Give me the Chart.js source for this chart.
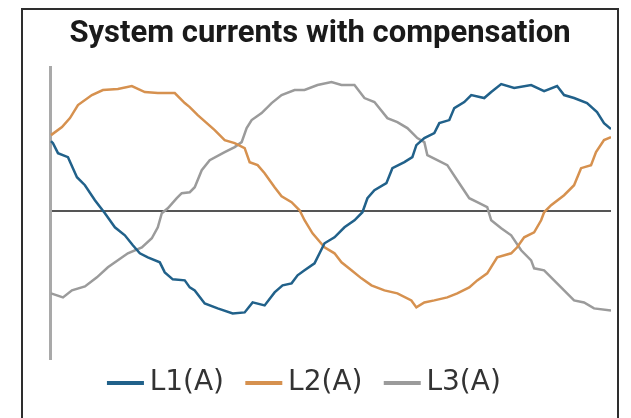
<!DOCTYPE html>
<html>
<head>
<meta charset="utf-8">
<script src="https://cdn.jsdelivr.net/npm/chart.js@4"></script>
<style>
  html, body { margin: 0; padding: 0; background: #fff; }
</style>
</head>
<body>
<canvas id="chart" width="631" height="418"></canvas>
<script>
// samples (x index) and currents (A)
const sampleL1 = [0, 2, 7, 17, 26, 34, 44, 54, 64, 74, 82, 89, 97, 109, 114, 122, 134, 139, 144, 154, 167, 182, 194, 202, 214, 224, 232, 241, 247, 254, 264, 274, 284, 294, 304, 312, 317, 324, 336, 342, 354, 362, 366, 374, 384, 389, 399, 404, 414, 421, 434, 441, 451, 464, 481, 494, 507, 514, 524, 537, 547, 554, 561];
const currentL1 = [7.0, 6.8, 5.8, 5.4, 3.4, 2.6, 1.1, -0.2, -1.6, -2.4, -3.4, -4.2, -4.6, -5.1, -6.1, -6.8, -6.9, -7.6, -7.9, -9.2, -9.7, -10.2, -10.1, -9.1, -9.4, -8.1, -7.4, -7.2, -6.4, -5.9, -5.2, -3.2, -2.6, -1.6, -0.9, -0.1, 1.3, 2.1, 2.8, 4.3, 4.9, 5.4, 6.6, 7.3, 7.8, 8.8, 9.1, 10.3, 10.9, 11.6, 11.3, 11.9, 12.7, 12.3, 12.6, 12.0, 12.5, 11.6, 11.3, 10.8, 9.9, 8.8, 8.2];

const sampleL2 = [0, 11, 19, 27, 41, 52, 67, 81, 94, 107, 124, 134, 139, 147, 164, 174, 184, 194, 199, 207, 214, 224, 231, 241, 249, 254, 262, 274, 284, 291, 301, 311, 321, 334, 347, 361, 366, 374, 384, 397, 407, 419, 427, 437, 447, 461, 467, 474, 484, 491, 494, 501, 514, 524, 531, 541, 546, 554, 561];
const currentL2 = [7.6, 8.4, 9.3, 10.6, 11.6, 12.1, 12.2, 12.5, 11.9, 11.8, 11.8, 10.8, 10.4, 9.6, 8.1, 7.1, 6.8, 6.3, 4.9, 4.6, 3.8, 2.4, 1.5, 0.9, 0.1, -0.9, -2.2, -3.6, -4.2, -5.1, -5.9, -6.7, -7.4, -7.9, -8.2, -8.9, -9.6, -9.1, -8.9, -8.6, -8.2, -7.6, -6.9, -6.2, -4.6, -4.2, -3.6, -2.6, -2.1, -0.9, -0.1, 0.6, 1.6, 2.6, 4.3, 4.6, 5.9, 7.1, 7.4];

const sampleL3 = [0, 12, 21, 34, 46, 57, 67, 77, 91, 101, 107, 111, 117, 126, 131, 139, 144, 151, 159, 174, 184, 191, 196, 201, 211, 221, 231, 244, 254, 267, 281, 291, 304, 314, 324, 337, 347, 357, 367, 374, 377, 387, 397, 407, 419, 427, 437, 441, 451, 461, 471, 481, 484, 494, 504, 514, 524, 534, 544, 561];
const currentL3 = [-8.2, -8.6, -7.9, -7.5, -6.6, -5.6, -4.9, -4.2, -3.6, -2.7, -1.6, -0.2, 0.3, 1.3, 1.8, 1.9, 2.4, 4.1, 5.1, 5.9, 6.4, 6.9, 8.3, 9.1, 9.8, 10.8, 11.6, 12.1, 12.1, 12.6, 12.9, 12.6, 12.6, 11.3, 10.9, 9.3, 8.9, 8.3, 7.3, 6.9, 5.6, 5.1, 4.6, 3.1, 1.3, 0.9, 0.4, -0.9, -1.7, -2.4, -3.9, -4.9, -5.7, -5.9, -6.9, -7.9, -8.9, -9.1, -9.7, -9.9];

const seriesLabels = ['L1(A)', 'L2(A)', 'L3(A)'];
const seriesColors = ['#21618a', '#d6914f', '#9b9b9b'];
const chartTitle = 'System currents with compensation';

const toPoints = (xs, ys) => xs.map((x, i) => ({ x, y: ys[i] }));

// short thick legend bar, drawn a little left of the item's box
function legendMarker(color) {
  const c = document.createElement('canvas');
  c.width = 60;
  c.height = 4;
  const g = c.getContext('2d');
  g.fillStyle = color;
  g.fillRect(21, 0, 37, 4);
  return c;
}
const markers = seriesColors.map(legendMarker);

// outer frame + title, title sits a bit off the plot centre like the original
const framePlugin = {
  id: 'frameAndTitle',
  afterDraw(chart) {
    const ctx = chart.ctx;
    ctx.save();
    ctx.strokeStyle = '#2e2e2e';
    ctx.lineWidth = 2;
    ctx.strokeRect(22, 9, 596, 430);
    ctx.fillStyle = '#1a1a1a';
    ctx.font = 'bold 31px Roboto';
    ctx.textAlign = 'center';
    ctx.textBaseline = 'alphabetic';
    ctx.fillText(chartTitle, 320, 42);
    ctx.restore();
  },
};

const datasets = [
  toPoints(sampleL1, currentL1),
  toPoints(sampleL2, currentL2),
  toPoints(sampleL3, currentL3),
].map((data, i) => ({
  label: seriesLabels[i],
  data,
  borderColor: seriesColors[i],
  backgroundColor: seriesColors[i],
  borderWidth: 2.5,
  pointRadius: 0,
  tension: 0,
}));

new Chart(document.getElementById('chart'), {
  type: 'line',
  data: { datasets },
  plugins: [framePlugin],
  options: {
    responsive: false,
    animation: false,
    layout: { padding: { left: -14, right: 20, top: 67, bottom: 11 } },
    plugins: {
      tooltip: { enabled: false },
      title: { display: false },
      legend: {
        position: 'bottom',
        labels: {
          usePointStyle: true,
          pointStyleWidth: 39.5,
          padding: 10.5,
          color: '#333',
          font: { family: 'DejaVu Sans', size: 28 },
          generateLabels(chart) {
            return Chart.defaults.plugins.legend.labels.generateLabels(chart)
              .map((item, i) => ({ ...item, pointStyle: markers[i] }));
          },
        },
      },
    },
    scales: {
      x: { type: 'linear', min: -1, max: 561, display: false },
      y: {
        min: -14.7,
        max: 14.4,
        afterFit(scale) { scale.width = 64; },
        afterBuildTicks(scale) { scale.ticks = [{ value: 0 }]; },
        ticks: { display: false },
        grid: { color: '#555', lineWidth: 2, drawTicks: false },
        border: { display: true, color: '#a9a9a9', width: 3 },
      },
    },
  },
});
</script>
</body>
</html>
